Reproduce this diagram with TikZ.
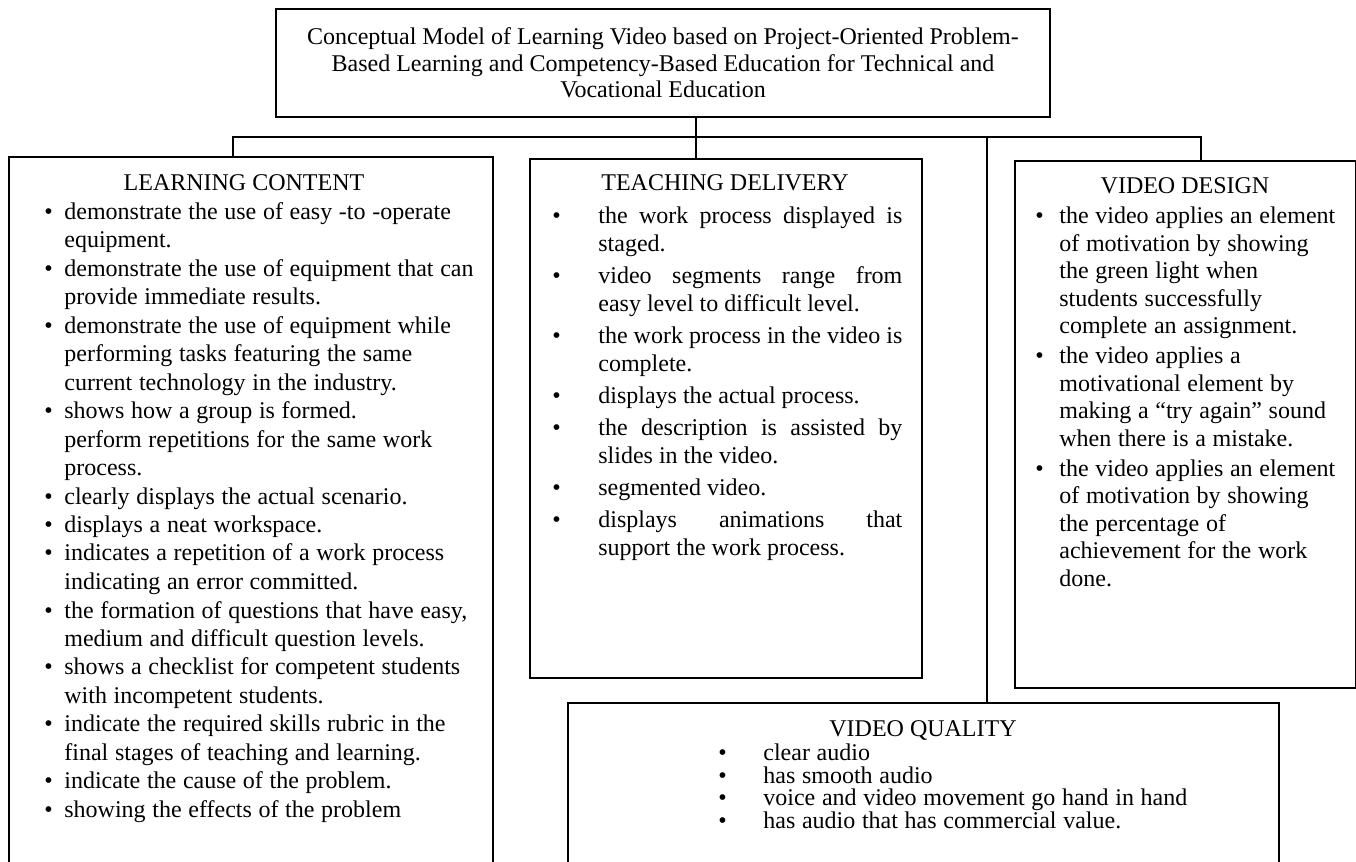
\documentclass[tikz,border=0pt]{standalone}
\usepackage{fontspec}
\setmainfont{Liberation Serif}
\usepackage{tikz}

\newlength{\bulgap}
\newcommand{\bitem}[1]{\hangindent=\bulgap\hangafter=1\noindent\makebox[\bulgap][l]{\textbullet}#1\par}

\tikzset{
  box/.style={draw, line width=1.1pt, inner sep=0pt, anchor=north west},
  line/.style={line width=1.1pt},
  head/.style={inner sep=0pt, anchor=base, font=\fontsize{12}{14}\selectfont},
  body/.style={inner sep=0pt, anchor=base west}
}

\begin{document}
\begin{tikzpicture}[x=0.5pt, y=-0.5pt]
\useasboundingbox (0,0) rectangle (1356,862);
\clip (0,0) rectangle (1356,862);

\node[box, anchor=center, minimum width=387pt, minimum height=54pt, align=center, font=\fontsize{12}{13.25}\selectfont] (title) at (663,63)
  {Conceptual Model of Learning Video based on Project-Oriented Problem-\\Based Learning and Competency-Based Education for Technical and\\Vocational Education};   %title

\node[box, minimum width=242pt, minimum height=372pt] (learn) at (8,156) {};      %learning content
\node[box, minimum width=196pt, minimum height=259.5pt] (teach) at (529,158) {};  %teaching delivery
\node[box, minimum width=170.5pt, minimum height=263.5pt] (design) at (1014,160) {}; %video design
\node[box, minimum width=355.5pt, minimum height=99pt] (quality) at (567,702) {};   %video quality

\coordinate (busL) at (233,137);
\coordinate (busR) at (1201,137);
\coordinate (busT) at (696,137);
\coordinate (busQ) at (987,137);
\draw[line] (busL |- learn.north) -- (busL) -- (busR) -- (busR |- design.north);   %bus
\draw[line] (busT |- title.south) -- (busT |- teach.north);
\draw[line] (busQ) -- (busQ |- quality.north);

\node[head] (learnhead) at (244,190) {LEARNING CONTENT};
\node[head] (teachhead) at (725,190) {TEACHING DELIVERY};
\node[head] (designhead) at (1185,193) {VIDEO DESIGN};
\node[head] (qualityhead) at (923,736) {VIDEO QUALITY};

\node[body, text width=220pt, align=left] (learnlist) at (44,219) {\fontsize{12}{14.25}\selectfont\setlength{\bulgap}{10pt}%
  \bitem{demonstrate the use of easy -to -operate\newline equipment.}%
  \bitem{demonstrate the use of equipment that can\newline provide immediate results.}%
  \bitem{demonstrate the use of equipment while\newline performing tasks featuring the same\newline current technology in the industry.}%
  \bitem{shows how a group is formed.\newline perform repetitions for the same work\newline process.}%
  \bitem{clearly displays the actual scenario.}%
  \bitem{displays a neat workspace.}%
  \bitem{indicates a repetition of a work process\newline indicating an error committed.}%
  \bitem{the formation of questions that have easy,\newline medium and difficult question levels.}%
  \bitem{shows a checklist for competent students\newline with incompetent students.}%
  \bitem{indicate the required skills rubric in the\newline final stages of teaching and learning.}%
  \bitem{indicate the cause of the problem.}%
  \bitem{showing the effects of the problem}};

\node[body, text width=175pt, align=justify] (teachlist) at (552,223.5) {\fontsize{12}{14}\selectfont\setlength{\bulgap}{23pt}\setlength{\parskip}{2pt}%
  \bitem{the work process displayed is\linebreak staged.}%
  \bitem{video segments range from\linebreak easy level to difficult level.}%
  \bitem{the work process in the video is\linebreak complete.}%
  \bitem{displays the actual process.}%
  \bitem{the description is assisted by\linebreak slides in the video.}%
  \bitem{segmented video.}%
  \bitem{displays animations that\linebreak support the work process.}};

\node[body, text width=160pt, align=left] (designlist) at (1035,223.5) {\fontsize{12}{13.75}\selectfont\setlength{\bulgap}{12pt}\setlength{\parskip}{1.25pt}%
  \bitem{the video applies an element\newline of motivation by showing\newline the green light when\newline students successfully\newline complete an assignment.}%
  \bitem{the video applies a\newline motivational element by\newline making a “try again” sound\newline when there is a mistake.}%
  \bitem{the video applies an element\newline of motivation by showing\newline the percentage of\newline achievement for the work\newline done.}};

\node[body, text width=300pt, align=left] (qualitylist) at (718,760.5) {\fontsize{12}{11.25}\selectfont\setlength{\bulgap}{22.5pt}%
  \bitem{clear audio}%
  \bitem{has smooth audio}%
  \bitem{voice and video movement go hand in hand}%
  \bitem{has audio that has commercial value.}};
\end{tikzpicture}
\end{document}
